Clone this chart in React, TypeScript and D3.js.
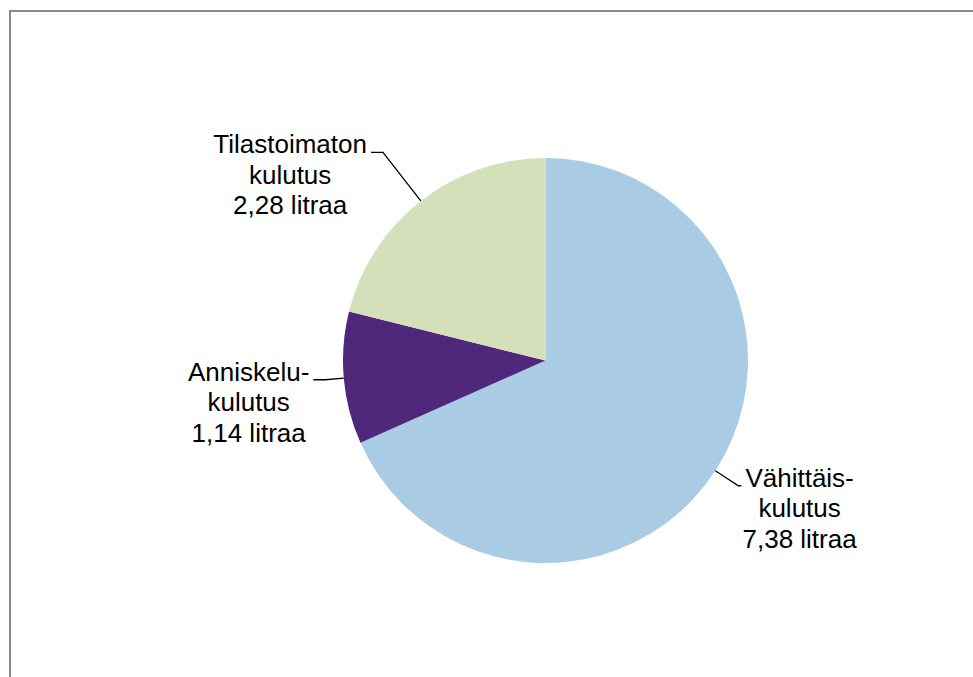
import React, { useEffect, useRef } from 'react';
import * as d3 from 'd3';

// consumption per capita, litres of pure alcohol
const categories = ['Vähittäis-', 'Anniskelu-', 'Tilastoimaton'];
const values = [7.38, 1.14, 2.28];
const valueLabels = ['7,38 litraa', '1,14 litraa', '2,28 litraa'];
const colors = ['#a9cce4', '#4f287b', '#d3e0b9'];

const width = 973;
const height = 677;
const cx = 545.5;
const cy = 360.5;
const radius = 202.5;
// leader elbow distance from center, per slice
const elbowRadius = [230, 221, 264];

export default function App() {
  const ref = useRef<SVGSVGElement | null>(null);

  useEffect(() => {
    const svg = d3.select(ref.current);
    svg.selectAll('*').remove();

    svg.append('rect')
      .attr('x', 10).attr('y', 11)
      .attr('width', 1000).attr('height', 700)
      .attr('fill', 'white')
      .attr('stroke', '#898989')
      .attr('stroke-width', 2);

    const pie = d3.pie<number>().value(d => d).sort(null);
    const arcs = pie(values);
    const arc = d3.arc<d3.PieArcDatum<number>>().innerRadius(0).outerRadius(radius);

    const g = svg.append('g').attr('transform', `translate(${cx},${cy})`);
    g.selectAll('path')
      .data(arcs)
      .enter()
      .append('path')
      .attr('d', arc)
      .attr('fill', (d, i) => colors[i]);

    const labels = svg.append('g')
      .attr('font-family', 'Liberation Sans, Arial, sans-serif')
      .attr('font-size', 26)
      .attr('fill', '#000');

    arcs.forEach((d, i) => {
      const mid = (d.startAngle + d.endAngle) / 2;
      const ex = cx + radius * Math.sin(mid);
      const ey = cy - radius * Math.cos(mid);
      const bx = cx + elbowRadius[i] * Math.sin(mid);
      const by = cy - elbowRadius[i] * Math.cos(mid);
      const side = Math.sin(mid) > 0 ? 1 : -1;
      const hx = bx + side * (side > 0 ? 3 : 12);

      labels.append('path')
        .attr('d', `M${ex},${ey}L${bx},${by}L${hx},${by}`)
        .attr('fill', 'none')
        .attr('stroke', '#000')
        .attr('stroke-width', 1.3);

      const lines = [categories[i], 'kulutus', valueLabels[i]];
      const t = labels.append('text').attr('text-anchor', 'middle');
      const first = t.append('tspan').text(lines[0]);
      const w = (first.node() as SVGTSpanElement).getComputedTextLength();
      const centerX = hx + side * (4 + w / 2);
      first.attr('x', centerX).attr('y', by + 1);
      lines.slice(1).forEach((line, k) => {
        t.append('tspan')
          .attr('x', centerX)
          .attr('y', by + 1 + 30.5 * (k + 1))
          .text(line);
      });
    });
  }, []);

  return (
    <svg
      ref={ref}
      width={width}
      height={height}
      style={{ position: 'fixed', left: 0, top: 0, background: 'white' }}
    />
  );
}
